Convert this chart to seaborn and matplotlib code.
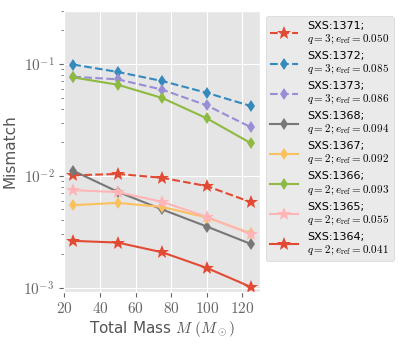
import matplotlib
matplotlib.use("Agg")
import matplotlib.pyplot as plt
import seaborn as sns
import pandas as pd
import numpy as np
from matplotlib.ticker import FixedLocator, FuncFormatter

# Total mass values (solar masses)
masses = [25, 50, 75, 100, 125]

# mismatch per simulation
mm_1371 = [0.0101, 0.0104, 0.0096, 0.0081, 0.0058]
mm_1372 = [0.099, 0.085, 0.0705, 0.0553, 0.042]
mm_1373 = [0.077, 0.073, 0.059, 0.0427, 0.0271]
mm_1368 = [0.0111, 0.0072, 0.0050, 0.00352, 0.00245]
mm_1367 = [0.00547, 0.00573, 0.00527, 0.00424, 0.00305]
mm_1366 = [0.076, 0.0653, 0.0497, 0.0327, 0.0195]
mm_1365 = [0.00745, 0.00715, 0.00585, 0.0043, 0.0030]
mm_1364 = [0.00262, 0.00253, 0.00207, 0.0015, 0.00101]

sims = ["SXS:1371", "SXS:1372", "SXS:1373", "SXS:1368",
        "SXS:1367", "SXS:1366", "SXS:1365", "SXS:1364"]
mass_ratio = [3, 3, 3, 2, 2, 2, 2, 2]
ecc_ref = ["0.050", "0.085", "0.086", "0.094", "0.092", "0.093", "0.055", "0.041"]
mismatches = [mm_1371, mm_1372, mm_1373, mm_1368, mm_1367, mm_1366, mm_1365, mm_1364]

markers = ["*", "d", "d", "d", "d", "d", "*", "*"]
styles = ["--", "--", "--", "-", "-", "-", "-", "-"]

plt.style.use("ggplot")
plt.rcParams["mathtext.fontset"] = "cm"
plt.rcParams["font.family"] = ["DejaVu Sans"]

fig = plt.figure(figsize=(4.15, 3.46), dpi=100)
ax = fig.add_axes([0.155, 0.157, 0.472, 0.812])

for sim, q, e, mm, mk, ls in zip(sims, mass_ratio, ecc_ref, mismatches, markers, styles):
    df = pd.DataFrame({"M": masses, "mismatch": mm})
    ms = 10 if mk == "*" else 6
    sns.lineplot(data=df, x="M", y="mismatch", ax=ax, marker=mk, markersize=ms,
                 linestyle=ls, linewidth=1.5, markeredgewidth=0,
                 label=f"{sim};\n$q={q}; e_{{\\rm ref}}={e}$")

ax.set_yscale("log")
ax.set_xlim(20, 130)
ax.set_ylim(9.2e-4, 0.3)
ax.xaxis.set_major_locator(FixedLocator([20, 40, 60, 80, 100, 120]))
ax.xaxis.set_major_formatter(FuncFormatter(lambda v, p: f"${v:.0f}$"))
ax.yaxis.set_major_formatter(FuncFormatter(lambda v, p: f"$10^{{{int(round(np.log10(v)))}}}$"))
ax.tick_params(axis="both", which="major", labelsize=11, colors="#666666")
ax.tick_params(axis="both", which="minor", colors="#666666")

ax.set_xlabel(r"Total Mass $M$ $(M_\odot)$", fontsize=11, color="#555555", labelpad=2)
ax.set_ylabel("Mismatch", fontsize=11, color="#555555", labelpad=4)

ax.legend(loc="upper left", bbox_to_anchor=(1.0, 1.0), fontsize=8,
          handlelength=2.5, labelspacing=0.45)

fig.savefig("out.png", dpi=100)
